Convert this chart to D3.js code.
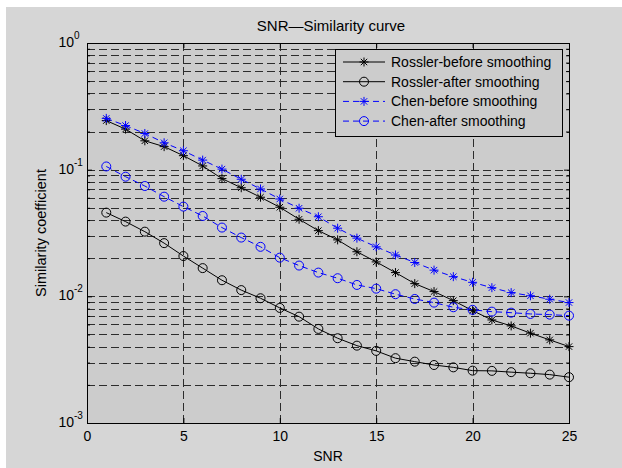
<!DOCTYPE html>
<html>
<head>
<meta charset="utf-8">
<script src="https://cdn.jsdelivr.net/npm/d3@7"></script>
<style>
  body { margin: 0; background: #ffffff; }
  svg { display: block; font-family: "Liberation Sans", Arial, sans-serif; }
</style>
</head>
<body>
<svg id="graphic" width="622" height="468"></svg>
<script>
// values
var snr = [1, 2, 3, 4, 5, 6, 7, 8, 9, 10, 11, 12, 13, 14, 15, 16, 17, 18, 19, 20, 21, 22, 23, 24, 25];

var rosslerBefore = [0.244, 0.209, 0.169, 0.152, 0.129, 0.107, 0.085, 0.072, 0.0606, 0.0505,
  0.0406, 0.0330, 0.0279, 0.0225, 0.0187, 0.0154, 0.0126, 0.0109, 0.00925, 0.00771,
  0.00651, 0.00584, 0.00512, 0.00453, 0.00401];
var rosslerAfter = [0.0458, 0.0389, 0.0324, 0.0263, 0.0208, 0.0167, 0.0134, 0.0112, 0.00966, 0.0081,
  0.00691, 0.00553, 0.00467, 0.00408, 0.00371, 0.00325, 0.00305, 0.00287, 0.00275, 0.00259,
  0.00258, 0.00252, 0.00247, 0.00241, 0.0023];
var chenBefore = [0.254, 0.223, 0.193, 0.163, 0.141, 0.119, 0.101, 0.084, 0.0704, 0.0587,
  0.0496, 0.0425, 0.0345, 0.0288, 0.0246, 0.0212, 0.0185, 0.0161, 0.0143, 0.0129,
  0.0117, 0.0107, 0.0101, 0.00949, 0.00893];
var chenAfter = [0.106, 0.088, 0.0743, 0.0612, 0.0511, 0.0431, 0.0349, 0.0291, 0.0246, 0.0202,
  0.0175, 0.0154, 0.0139, 0.0123, 0.0115, 0.0104, 0.00953, 0.00892, 0.0082, 0.00782,
  0.00757, 0.00743, 0.00726, 0.00717, 0.00704];

var seriesNames = ["Rossler-before smoothing", "Rossler-after smoothing", "Chen-before smoothing", "Chen-after smoothing"];
var xTicks = [0, 5, 10, 15, 20, 25];
var yDecades = [0.001, 0.01, 0.1, 1];
var yExponents = ["-3", "-2", "-1", "0"];

var series = [
  { name: seriesNames[0], values: rosslerBefore, color: "#000000", marker: "star", dash: null },
  { name: seriesNames[1], values: rosslerAfter, color: "#000000", marker: "circle", dash: null },
  { name: seriesNames[2], values: chenBefore, color: "#0000ff", marker: "star", dash: "6,4" },
  { name: seriesNames[3], values: chenAfter, color: "#0000ff", marker: "circle", dash: "6,4" }
];

var svg = d3.select("#graphic");
// plot box (top is taken by window.top, so use other names)
var pLeft = 87, pRight = 569, pTop = 43, pBottom = 423;

var x = d3.scaleLinear().domain([0, 25]).range([pLeft, pRight]);
var y = d3.scaleLog().domain([0.001, 1]).range([pBottom, pTop]);

// minor log ticks 2..9 in every decade
var yMinor = [];
yDecades.slice(0, 3).forEach(function (d) {
  for (var k = 2; k <= 9; k++) yMinor.push(d * k);
});

// figure background
svg.append("rect").attr("x", 6).attr("y", 7).attr("width", 616).attr("height", 461).attr("fill", "#d6d6d6");
svg.append("rect").attr("x", pLeft).attr("y", pTop).attr("width", pRight - pLeft).attr("height", pBottom - pTop).attr("fill", "#cccccc");

// grid
var grid = svg.append("g").attr("stroke", "#111").attr("stroke-width", 1).attr("stroke-dasharray", "8,4").attr("opacity", 0.85);
grid.selectAll("line.h")
  .data(yMinor.concat([0.01, 0.1]))
  .enter().append("line")
  .attr("x1", pLeft).attr("x2", pRight)
  .attr("y1", function (d) { return Math.round(y(d)) + 0.5; })
  .attr("y2", function (d) { return Math.round(y(d)) + 0.5; });
grid.selectAll("line.v")
  .data(xTicks.slice(1, 5))
  .enter().append("line")
  .attr("y1", pTop).attr("y2", pBottom)
  .attr("x1", function (d) { return Math.round(x(d)) + 0.5; })
  .attr("x2", function (d) { return Math.round(x(d)) + 0.5; });

// axes ticks
function styleAxis(g) {
  g.select(".domain").remove();
  g.selectAll(".tick line").attr("stroke", "#000");
}
svg.append("g").attr("transform", "translate(0," + pBottom + ")")
  .call(d3.axisBottom(x).tickValues(xTicks).tickSize(-5).tickPadding(8).tickFormat(d3.format("d")))
  .call(styleAxis)
  .selectAll("text").attr("font-size", 14).attr("fill", "#000").attr("font-family", "Liberation Sans, Arial, sans-serif");
svg.append("g").attr("transform", "translate(0," + pTop + ")")
  .call(d3.axisTop(x).tickValues(xTicks).tickSize(-5).tickFormat(""))
  .call(styleAxis);
svg.append("g").attr("transform", "translate(" + pLeft + ",0)")
  .call(d3.axisLeft(y).tickValues(yDecades).tickSize(-5).tickFormat(""))
  .call(styleAxis);
svg.append("g").attr("transform", "translate(" + pLeft + ",0)")
  .call(d3.axisLeft(y).tickValues(yMinor).tickSize(-3).tickFormat(""))
  .call(styleAxis);
svg.append("g").attr("transform", "translate(" + pRight + ",0)")
  .call(d3.axisRight(y).tickValues(yDecades).tickSize(-5).tickFormat(""))
  .call(styleAxis);
svg.append("g").attr("transform", "translate(" + pRight + ",0)")
  .call(d3.axisRight(y).tickValues(yMinor).tickSize(-3).tickFormat(""))
  .call(styleAxis);

// y labels as 10^n
var yl = svg.append("g").attr("font-size", 14).attr("fill", "#000");
yDecades.forEach(function (d, i) {
  yl.append("text").attr("x", 74).attr("y", y(d) + 4).attr("text-anchor", "end").text("10");
  yl.append("text").attr("x", 74).attr("y", y(d) - 4).attr("font-size", 10).text(yExponents[i]);
});

// frame
svg.append("rect").attr("x", pLeft + 0.5).attr("y", pTop + 0.5).attr("width", pRight - pLeft).attr("height", pBottom - pTop)
  .attr("fill", "none").attr("stroke", "#000").attr("stroke-width", 1);

// markers
function drawMarker(g, kind, cx, cy, color) {
  if (kind === "circle") {
    g.append("circle").attr("cx", cx).attr("cy", cy).attr("r", 4.5)
      .attr("fill", "none").attr("stroke", color).attr("stroke-width", 1);
  } else {
    var s = 4.5, d = 3.2;
    g.append("path")
      .attr("d", "M" + (cx - s) + "," + cy + "H" + (cx + s) +
        "M" + cx + "," + (cy - s) + "V" + (cy + s) +
        "M" + (cx - d) + "," + (cy - d) + "L" + (cx + d) + "," + (cy + d) +
        "M" + (cx - d) + "," + (cy + d) + "L" + (cx + d) + "," + (cy - d))
      .attr("stroke", color).attr("stroke-width", 1).attr("fill", "none");
  }
}

var line = d3.line()
  .x(function (d) { return x(d[0]); })
  .y(function (d) { return y(d[1]); });

series.forEach(function (s) {
  var pts = snr.map(function (v, i) { return [v, s.values[i]]; });
  svg.append("path").datum(pts)
    .attr("d", line)
    .attr("fill", "none")
    .attr("stroke", s.color)
    .attr("stroke-width", 1)
    .attr("stroke-dasharray", s.dash);
  var mg = svg.append("g");
  pts.forEach(function (p) { drawMarker(mg, s.marker, x(p[0]), y(p[1]), s.color); });
});

// legend
var lg = svg.append("g");
lg.append("rect").attr("x", 335.5).attr("y", 49.5).attr("width", 227).attr("height", 87)
  .attr("fill", "#cccccc").attr("stroke", "#000").attr("stroke-width", 1);
series.forEach(function (s, i) {
  var ly = 62 + i * 19.7;
  lg.append("line").attr("x1", 343).attr("x2", 385).attr("y1", ly).attr("y2", ly)
    .attr("stroke", s.color).attr("stroke-width", 1).attr("stroke-dasharray", s.dash);
  drawMarker(lg, s.marker, 364, ly, s.color);
  lg.append("text").attr("x", 391).attr("y", ly + 5).attr("font-size", 14).attr("fill", "#000").text(s.name);
});

// titles
svg.append("text").attr("x", 331).attr("y", 31).attr("text-anchor", "middle").attr("font-size", 15).text("SNR\u2014Similarity curve");
svg.append("text").attr("x", 328).attr("y", 461).attr("text-anchor", "middle").attr("font-size", 14).text("SNR");
svg.append("text").attr("transform", "translate(46,233) rotate(-90)").attr("text-anchor", "middle").attr("font-size", 14.5).text("Similarity coefficient");
</script>
</body>
</html>
